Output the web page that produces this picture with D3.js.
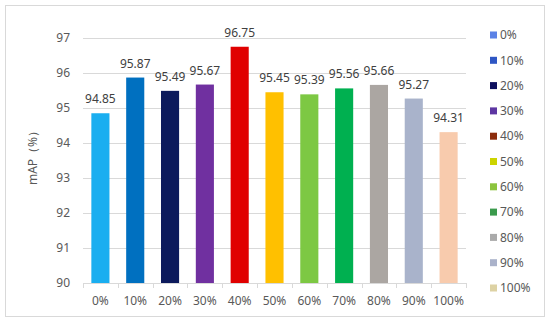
<!DOCTYPE html>
<meta charset="utf-8">
<style>
    body { margin: 0; background: #fff; }
    text { font-family: "Noto Sans", "Open Sans", sans-serif; }
</style>
<body>
<svg width="550" height="323"></svg>
<script src="https://d3js.org/d3.v7.min.js"></script>
<script>
    var categories = ["0%", "10%", "20%", "30%", "40%", "50%", "60%", "70%", "80%", "90%", "100%"];
    var values = [94.85, 95.87, 95.49, 95.67, 96.75, 95.45, 95.39, 95.56, 95.66, 95.27, 94.31];
    var barColors = ["#1aaef0", "#0070c0", "#0c1a5c", "#7030a0", "#e00000", "#ffc000",
                     "#7dc843", "#00b050", "#aba6a2", "#a9b3cb", "#f8cbad"];
    var legendColors = ["#5b82e6", "#2e56c4", "#0d0f5e", "#5d36a2", "#8c2c0c", "#ccd400",
                        "#8cc43e", "#3a9a4c", "#aaaaaa", "#aab2ca", "#ddd2a4"];
    var yTicks = [90, 91, 92, 93, 94, 95, 96, 97];

    var svg = d3.select("svg");

    // outer frame
    svg.append("rect")
        .attr("x", 5.5).attr("y", 5.5)
        .attr("width", 539).attr("height", 311)
        .attr("fill", "none").attr("stroke", "#d9d9d9");

    var x = d3.scaleBand().domain(categories).range([83, 466]).paddingInner(0.48).paddingOuter(0.24);
    var y = d3.scaleLinear().domain([90, 97]).range([283, 38]);

    // gridlines
    svg.append("g").selectAll("line")
        .data(yTicks.slice(1))
        .enter().append("line")
        .attr("x1", 83).attr("x2", 466)
        .attr("y1", function(d) { return Math.round(y(d)) + 0.5; })
        .attr("y2", function(d) { return Math.round(y(d)) + 0.5; })
        .attr("stroke", "#d9d9d9");

    // y labels
    svg.append("g").selectAll("text")
        .data(yTicks)
        .enter().append("text")
        .attr("x", 70)
        .attr("y", function(d) { return y(d); })
        .attr("dy", "0.35em")
        .attr("text-anchor", "end")
        .attr("fill", "#595959")
        .style("font-size", "12px")
        .text(function(d) { return d; });

    // bars
    svg.append("g").selectAll("rect")
        .data(values)
        .enter().append("rect")
        .attr("x", function(d, i) { return x(categories[i]); })
        .attr("width", x.bandwidth())
        .attr("y", function(d) { return y(d); })
        .attr("height", function(d) { return y(90) - y(d); })
        .attr("fill", function(d, i) { return barColors[i]; });

    // value labels
    svg.append("g").selectAll("text")
        .data(values)
        .enter().append("text")
        .attr("x", function(d, i) { return x(categories[i]) + x.bandwidth() / 2; })
        .attr("y", function(d) { return y(d) - 10; })
        .attr("text-anchor", "middle")
        .attr("fill", "#404040")
        .style("font-size", "12px")
        .text(function(d) { return d.toFixed(2); });

    // x axis line and ticks
    var xa = svg.append("g").attr("stroke", "#d9d9d9");
    xa.append("line").attr("x1", 83).attr("x2", 466)
        .attr("y1", 283.5).attr("y2", 283.5);
    xa.selectAll(".tk")
        .data(d3.range(categories.length + 1))
        .enter().append("line")
        .attr("x1", function(i) { return Math.round(83 + i * (383 / categories.length)) + 0.5; })
        .attr("x2", function(i) { return Math.round(83 + i * (383 / categories.length)) + 0.5; })
        .attr("y1", 283).attr("y2", 288);

    svg.append("g").selectAll("text")
        .data(categories)
        .enter().append("text")
        .attr("x", function(d) { return x(d) + x.bandwidth() / 2; })
        .attr("y", 301)
        .attr("dy", "0.35em")
        .attr("text-anchor", "middle")
        .attr("fill", "#595959")
        .style("font-size", "12px")
        .text(function(d) { return d; });

    // y axis title
    svg.append("text")
        .attr("transform", "translate(37,155) rotate(-90)")
        .attr("text-anchor", "middle")
        .attr("fill", "#595959")
        .style("font-size", "12px")
        .text("mAP（%）");

    // legend
    var lg = svg.append("g").selectAll("g")
        .data(categories)
        .enter().append("g")
        .attr("transform", function(d, i) { return "translate(490," + (35 + i * 25.3) + ")"; });
    lg.append("rect")
        .attr("x", 0).attr("y", -3.5)
        .attr("width", 7).attr("height", 7)
        .attr("fill", function(d, i) { return legendColors[i]; });
    lg.append("text")
        .attr("x", 10).attr("y", 0)
        .attr("dy", "0.35em")
        .attr("fill", "#595959")
        .style("font-size", "12px")
        .text(function(d) { return d; });
</script>
</body>
